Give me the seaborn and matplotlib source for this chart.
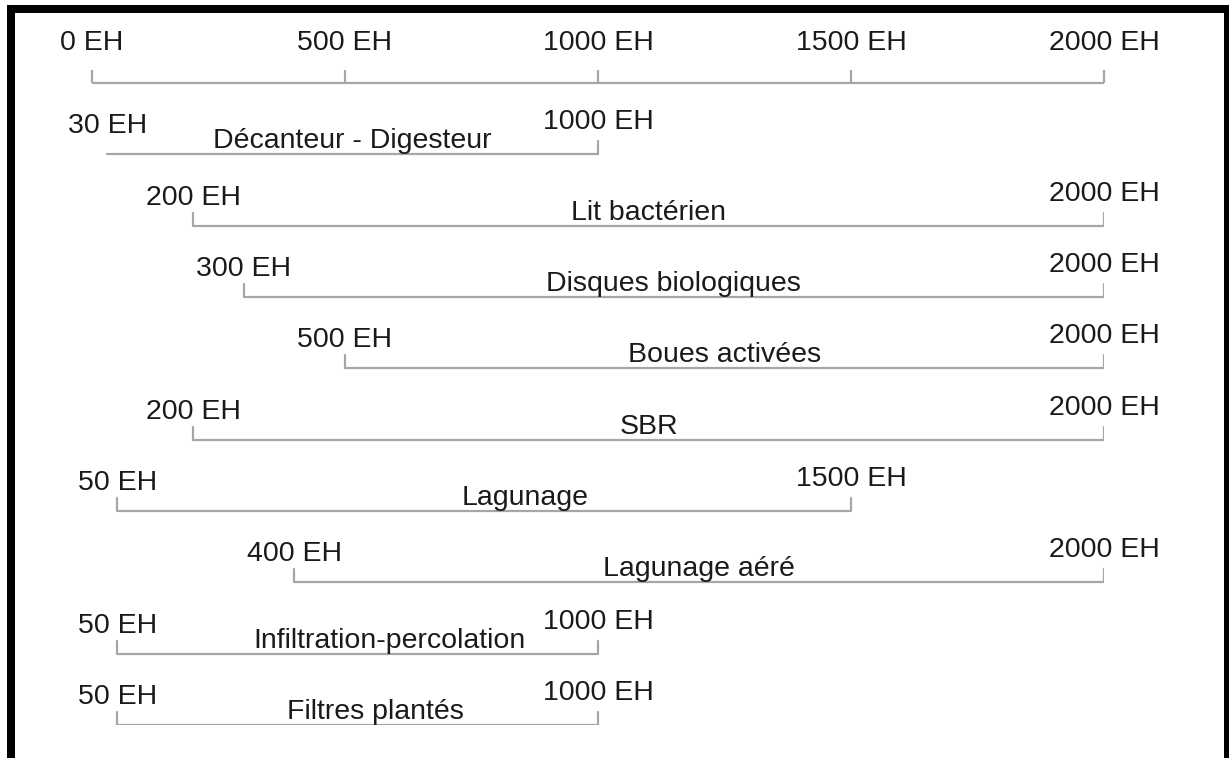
import numpy as np
import pandas as pd
import matplotlib
matplotlib.use("Agg")
import matplotlib.pyplot as plt
from matplotlib.patches import Rectangle
import seaborn as sns

# Données : domaines d'application des procédés (en EH)
procedes = ["Décanteur - Digesteur", "Lit bactérien", "Disques biologiques",
            "Boues activées", "SBR", "Lagunage", "Lagunage aéré",
            "Infiltration-percolation", "Filtres plantés"]
eh_min = [30, 200, 300, 500, 200, 50, 400, 50, 50]
eh_max = [1000, 2000, 2000, 2000, 2000, 1500, 2000, 1000, 1000]
echelle = [0, 500, 1000, 1500, 2000]

# petits décalages des noms (en EH) pour coller à la figure d'origine
decalage_nom = [0, 0, 0, 0, 0, 80, 0, 63, 36]
tick_gauche = [False, True, True, True, True, True, True, True, True]

sns.set_theme(style="white")
plt.rcParams['font.family'] = ['Liberation Sans', 'DejaVu Sans']

W, H = 1229, 758
fig = plt.figure(figsize=(W / 100, H / 100), dpi=100)
fig.patch.set_facecolor("white")

# axe : x en EH, y = numéro de ligne (0 = échelle)
x0, x1 = 92, 1104
y0, y9 = 83, 725
ax = fig.add_axes([x0 / W, 1 - y9 / H, (x1 - x0) / W, (y9 - y0) / H])

gris = "#a6a6a6"
texte = "#1a1a1a"
fs = 20.5
t = 0.18  # hauteur des petites barres verticales (en lignes)

# crochets de chaque procédé
rows = []
for i, (nom, a, b) in enumerate(zip(procedes, eh_min, eh_max)):
    r = i + 1
    if tick_gauche[i]:
        rows.append(dict(procede=nom, ordre=0, x=a, y=r - t))
    rows += [dict(procede=nom, ordre=1, x=a, y=r),
             dict(procede=nom, ordre=2, x=b, y=r),
             dict(procede=nom, ordre=3, x=b, y=r - t)]
df = pd.DataFrame(rows)

sns.lineplot(data=df, x="x", y="y", units="procede", estimator=None, sort=False,
             color=gris, lw=1.6, ax=ax, legend=False)
ax.set_xlim(0, 2000)
ax.set_ylim(9, 0)
ax.axis("off")

# échelle du haut
ax.hlines(0, echelle[0], echelle[-1], color=gris, lw=1.6, clip_on=False)
ax.vlines(echelle, -t, 0, color=gris, lw=1.6, clip_on=False)
for v in echelle:
    ax.annotate(f"{v} EH", xy=(v, 0), xytext=(0, 40), textcoords="offset pixels",
                ha="center", va="center", fontsize=fs, color=texte)

for i, (nom, a, b) in enumerate(zip(procedes, eh_min, eh_max)):
    r = i + 1
    ax.annotate(f"{a} EH", xy=(a, r), xytext=(0, 28), textcoords="offset pixels",
                ha="center", va="center", fontsize=fs, color=texte)
    ax.annotate(f"{b} EH", xy=(b, r), xytext=(0, 32), textcoords="offset pixels",
                ha="center", va="center", fontsize=fs, color=texte)
    ax.annotate(nom, xy=((a + b) / 2 + decalage_nom[i], r), xytext=(0, 6),
                textcoords="offset pixels", ha="center", va="baseline",
                fontsize=fs, color=texte)

# cadre noir
fig.patches.append(Rectangle((11 / W, 1 - 760 / H), (1228 - 11) / W, (760 - 9) / H,
                             transform=fig.transFigure, fill=False,
                             ec="black", lw=8 * 0.72, clip_on=False))

fig.savefig("out.png", dpi=100)
